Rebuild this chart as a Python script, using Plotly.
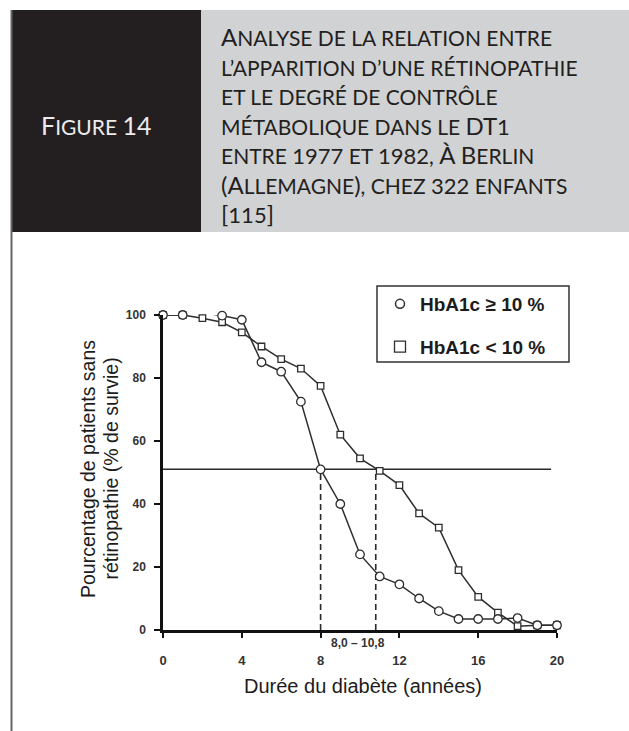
import plotly.graph_objects as go

# ---------------- data ----------------
years = list(range(0, 21))
hba1c_high = [100, 100, 100.7, 99.8, 98.5, 85, 82, 72.5, 51, 40, 24, 17, 14.5,
              10, 6, 3.5, 3.5, 3.5, 3.8, 1.5, 1.5]          # HbA1c >= 10 % (circles)
hba1c_low = [100, 100, 99, 97.7, 94.5, 90, 86, 83, 77.5, 62, 54.5, 50.5, 46,
             37, 32.5, 19, 10.5, 5.5, 1.2, 1.5, 1.5]          # HbA1c < 10 % (squares)
ref_x = [0, 19.7]
ref_y = [51, 51]
medians = [8.0, 10.8]
median_level = 51
x_ticks = [0, 4, 8, 12, 16, 20]
y_ticks = [0, 20, 40, 60, 80, 100]
legend_labels = ["HbA1c ≥ 10 %", "HbA1c &lt; 10 %"]
median_label = "8,0 – 10,8"
x_title = "Durée du diabète (années)"
y_title_lines = ["Pourcentage de patients sans", "rétinopathie (% de survie)"]
header_label = "Figure 14"
header_lines = [
    "Analyse de la relation entre",
    "l’apparition d’une rétinopathie",
    "et le degré de contrôle",
    "métabolique dans le DT1",
    "entre 1977 et 1982, À Berlin",
    "(Allemagne), chez 322 enfants",
    "[115]",
]

# ---------------- geometry helpers ----------------
W, H = 629, 731
L, R, T, B = 163, 557, 315, 630
PW, PH = R - L, B - T


def px_x(px):
    return (px - L) / PW


def px_y(py):
    return (B - py) / PH


def small_caps(text, big, small, digit):
    out = []
    cur_size, buf = None, ""
    for ch in text:
        if ch.isupper() or ch in "()[]":
            size, c = big, ch
        elif ch.isdigit():
            size, c = digit, ch
        else:
            size, c = small, ch.upper()
        if size != cur_size and buf:
            out.append(f'<span style="font-size:{cur_size}px">{buf}</span>')
            buf = ""
        cur_size = size
        buf += c
    if buf:
        out.append(f'<span style="font-size:{cur_size}px">{buf}</span>')
    return "".join(out)


FONT = "Liberation Sans, Arial, sans-serif"
HFONT = "Lato, Open Sans, sans-serif"
INK = "#1c1c1c"
BIG, SMALL, DIGIT = 24, 21, 22
LINE_STEP = 29.5

fig = go.Figure()

# 50 % reference line
fig.add_trace(go.Scatter(x=ref_x, y=ref_y, mode="lines",
                         line=dict(color="#2a2a2a", width=1.5),
                         showlegend=False, hoverinfo="skip", cliponaxis=False))
# median dashed verticals
for m in medians:
    fig.add_trace(go.Scatter(x=[m, m], y=[0, median_level], mode="lines",
                             line=dict(color="#2a2a2a", width=1.6, dash="6px,4px"),
                             showlegend=False, hoverinfo="skip", cliponaxis=False))

fig.add_trace(go.Scatter(
    x=years, y=hba1c_low, mode="lines+markers", showlegend=False, cliponaxis=False,
    line=dict(color="#2e2e2e", width=1.5),
    marker=dict(symbol="square", size=6.5, color="white",
                line=dict(color="#2e2e2e", width=1.3))))
fig.add_trace(go.Scatter(
    x=years, y=hba1c_high, mode="lines+markers", showlegend=False, cliponaxis=False,
    line=dict(color="#2e2e2e", width=1.5),
    marker=dict(symbol="circle", size=8.5, color="white",
                line=dict(color="#2e2e2e", width=1.3))))

# legend-only entries
fig.add_trace(go.Scatter(x=[None], y=[None], mode="markers", name=legend_labels[0],
                         legendgroup="a",
                         marker=dict(symbol="circle", size=9, color="white",
                                     line=dict(color="#2e2e2e", width=1.5))))
fig.add_trace(go.Scatter(x=[None], y=[None], mode="markers", name=legend_labels[1],
                         legendgroup="b",
                         marker=dict(symbol="square", size=11, color="white",
                                     line=dict(color="#2e2e2e", width=1.3))))

shapes = [
    # header boxes
    dict(type="rect", xref="paper", yref="paper", x0=px_x(11), x1=px_x(201),
         y0=px_y(232), y1=px_y(10), fillcolor="#231f20", line=dict(width=0), layer="below"),
    dict(type="rect", xref="paper", yref="paper", x0=px_x(201), x1=px_x(629),
         y0=px_y(232), y1=px_y(10), fillcolor="#d1d2d4", line=dict(width=0), layer="below"),
    # left rule
    dict(type="line", xref="paper", yref="paper", x0=px_x(11.5), x1=px_x(11.5),
         y0=px_y(10), y1=px_y(731), line=dict(color="#666666", width=2)),
    # legend frame
    dict(type="rect", xref="paper", yref="paper", x0=px_x(377), x1=px_x(569),
         y0=px_y(362), y1=px_y(286), line=dict(color="#333333", width=1.5),
         fillcolor="rgba(0,0,0,0)"),
]

annotations = []
# header title block (one multi-line text, line spacing = 1.3 * font size)
annotations.append(dict(
    xref="paper", yref="paper", x=px_x(219), y=px_y(125.5), xanchor="left",
    yanchor="middle", align="left", showarrow=False,
    text="<br>".join(small_caps(t, BIG, SMALL, DIGIT) for t in header_lines),
    font=dict(family=HFONT, color="#231f20", size=LINE_STEP / 1.3)))
annotations.append(dict(
    xref="paper", yref="paper", x=px_x(96), y=px_y(125.5), xanchor="center",
    yanchor="middle", showarrow=False,
    text=small_caps(header_label, BIG + 1, SMALL, BIG + 1),
    font=dict(family=HFONT, color="#ececec", size=SMALL)))

# axis titles
annotations.append(dict(
    xref="paper", yref="paper", x=px_x(363), y=px_y(686), xanchor="center",
    yanchor="middle", showarrow=False, text=x_title,
    font=dict(family=FONT, color=INK, size=20)))
for txt, xc in zip(y_title_lines, [88, 110.5]):
    annotations.append(dict(
        xref="paper", yref="paper", x=px_x(xc), y=px_y(469), xanchor="center",
        yanchor="middle", showarrow=False, text=txt, textangle=-90,
        font=dict(family=FONT, color=INK, size=19.5)))
# median label
annotations.append(dict(
    xref="paper", yref="paper", x=px_x(358), y=px_y(643), xanchor="center",
    yanchor="middle", showarrow=False, text=f"<b>{median_label}</b>",
    font=dict(family=FONT, color="#333333", size=12)))

fig.update_layout(
    width=W, height=H,
    margin=dict(l=L, r=W - R, t=T, b=H - B, pad=0),
    paper_bgcolor="white", plot_bgcolor="white",
    shapes=shapes, annotations=annotations,
    showlegend=True,
    legend=dict(x=px_x(380), y=px_y(285), xanchor="left", yanchor="top",
                bgcolor="rgba(0,0,0,0)", borderwidth=0, tracegroupgap=15,
                font=dict(family=FONT, size=19, color=INK, weight="bold"),
                itemclick=False, itemdoubleclick=False),
    xaxis=dict(range=[0, 20], tickvals=x_ticks, showgrid=False, zeroline=False,
               showline=True, linecolor="#111111", linewidth=2.5,
               ticks="outside", ticklen=5, tickwidth=1.5, tickcolor="#111111",
               ticklabelstandoff=12,
               tickfont=dict(family=FONT, size=13, color="#333333", weight="bold")),
    yaxis=dict(range=[0, 100], tickvals=y_ticks, showgrid=False, zeroline=False,
               showline=True, linecolor="#111111", linewidth=2.5,
               ticks="outside", ticklen=6, tickwidth=1.5, tickcolor="#111111",
               ticklabelstandoff=6,
               tickfont=dict(family=FONT, size=12, color="#333333", weight="bold")),
)

fig.write_html("out.html", config={"displayModeBar": False},
               post_script="document.body.style.margin='0';")
